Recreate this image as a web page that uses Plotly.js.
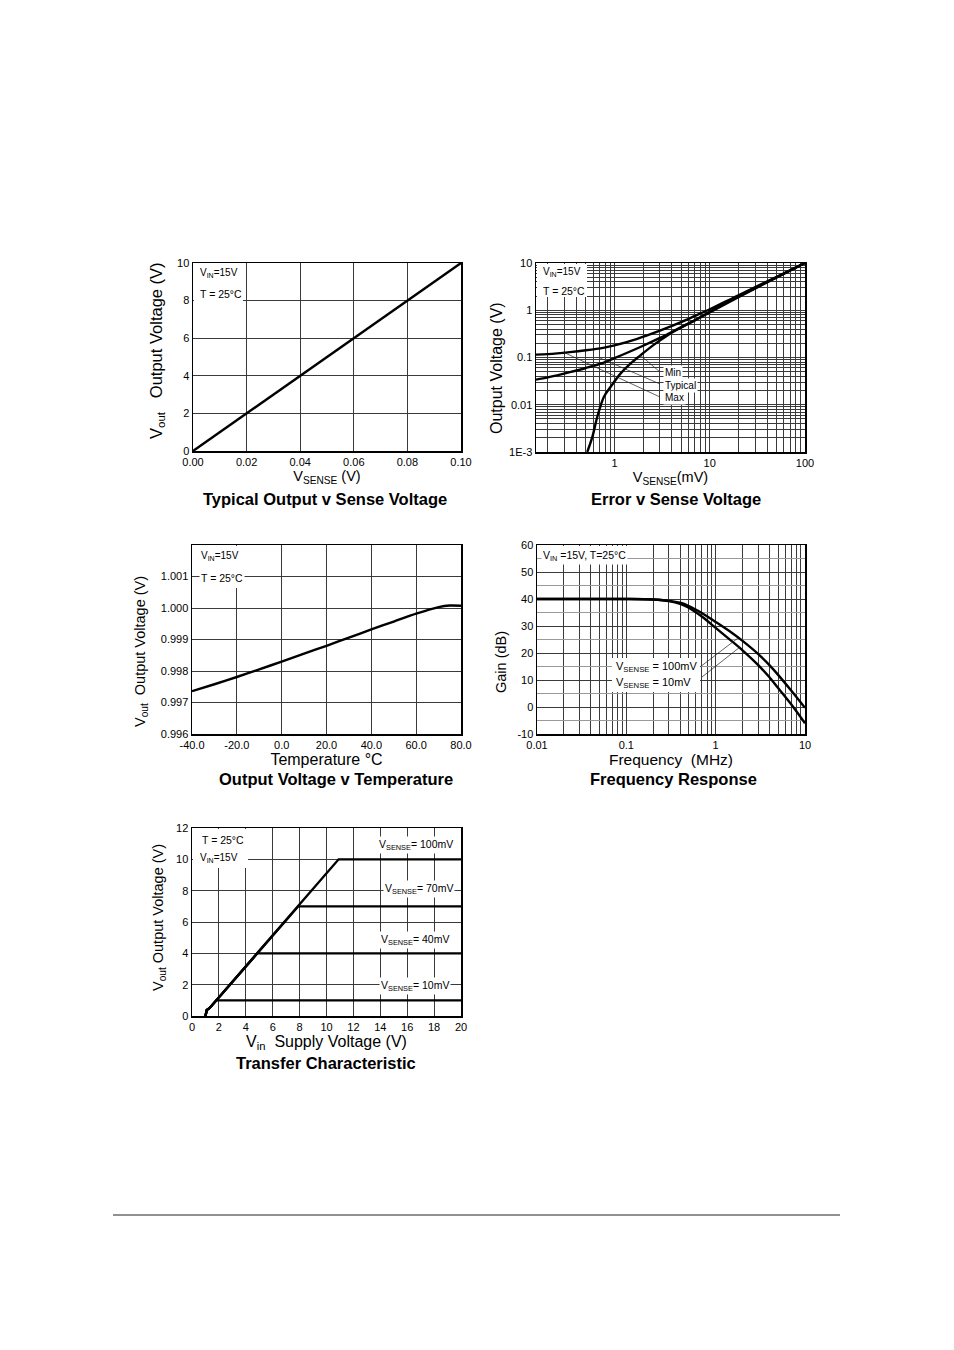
<!DOCTYPE html>
<html>
<head>
<meta charset="utf-8">
<script src="https://cdn.plot.ly/plotly-3.0.1.min.js"></script>
<style>html,body{margin:0;padding:0;background:#fff}#chart{width:954px;height:1350px}</style>
</head>
<body>
<div id="chart"></div>
<script>
// ---------- DATA ----------
// 1. Typical Output v Sense Voltage
var senseV = [0, 0.02, 0.04, 0.06, 0.08, 0.10];
var outV = [0, 2, 4, 6, 8, 10];
var senseXTicks = [0, 0.02, 0.04, 0.06, 0.08, 0.10];
var senseXLabels = ['0.00', '0.02', '0.04', '0.06', '0.08', '0.10'];

// 2. Error v Sense Voltage (mV, V)
var errMaxX = [0.15, 0.2, 0.34, 0.5, 0.76, 1, 1.7, 3, 5, 7, 10, 20, 50, 100];
var errMaxY = [0.115, 0.118, 0.13, 0.142, 0.16, 0.18, 0.245, 0.37, 0.56, 0.76, 1.05, 2.08, 5.05, 10];
var errTypX = [0.15, 0.2, 0.34, 0.5, 0.76, 1, 1.87, 3, 4.9, 7, 10, 20, 50, 100];
var errTypY = [0.034, 0.038, 0.049, 0.06, 0.077, 0.097, 0.167, 0.26, 0.43, 0.62, 0.93, 1.95, 4.95, 10];
var errMinX = [0.518, 0.59, 0.659, 0.773, 0.908, 1.155, 1.47, 1.87, 2.58, 3.56, 5, 7, 10, 20, 50, 100];
var errMinY = [0.001, 0.0022, 0.0055, 0.0146, 0.0237, 0.0456, 0.0743, 0.111, 0.185, 0.29, 0.43, 0.61, 0.9, 1.9, 4.9, 10];
var errXTicks = [1, 10, 100];
var errXLabels = ['1', '10', '100'];
var errXMinor = [0.2,0.3,0.4,0.5,0.6,0.7,0.8,0.9,2,3,4,5,6,7,8,9,20,30,40,50,60,70,80,90];
var errYTicks = [0.001, 0.01, 0.1, 1, 10];
var errYLabels = ['1E-3', '0.01', '0.1', '1', '10'];
var errYMinor = [0.002,0.003,0.004,0.005,0.006,0.007,0.008,0.009,0.02,0.03,0.04,0.05,0.06,0.07,0.08,0.09,0.2,0.3,0.4,0.5,0.6,0.7,0.8,0.9,2,3,4,5,6,7,8,9];

// 3. Output Voltage v Temperature
var tempC = [-40, -30, -20, -10, 0, 10, 20, 30, 40, 50, 60, 70, 75, 80];
var tempVout = [0.99736, 0.99758, 0.99781, 0.99805, 0.99830, 0.99855, 0.99880, 0.99906, 0.99932, 0.99957, 0.99982, 1.00003, 1.00008, 1.00007];
var tempXTicks = [-40, -20, 0, 20, 40, 60, 80];
var tempXLabels = ['-40.0', '-20.0', '0.0', '20.0', '40.0', '60.0', '80.0'];
var tempYTicks = [0.996, 0.997, 0.998, 0.999, 1.000, 1.001];
var tempYLabels = ['0.996', '0.997', '0.998', '0.999', '1.000', '1.001'];

// 4. Frequency Response
var freqMHz = [0.01, 0.02, 0.05, 0.1, 0.2, 0.3, 0.4, 0.5, 0.7, 1, 1.5, 2, 3, 4, 5, 7, 10];
var gain100 = [40, 40, 40, 40, 39.8, 39.3, 38.6, 37.4, 34.8, 31.5, 27.6, 24.5, 19.6, 15.5, 11.9, 6.1, -0.3];
var gain10 = [40, 40, 40, 40, 39.8, 39.2, 38.2, 36.8, 33.5, 29.3, 24.5, 21, 15.5, 11, 7, 1, -6];
var freqXTicks = [0.01, 0.1, 1, 10];
var freqXLabels = ['0.01', '0.1', '1', '10'];
var freqXMinor = [0.02,0.03,0.04,0.05,0.06,0.07,0.08,0.09,0.2,0.3,0.4,0.5,0.6,0.7,0.8,0.9,2,3,4,5,6,7,8,9];
var gainYTicks = [-10, 0, 10, 20, 30, 40, 50, 60];
var gainYLabels = ['-10', '0', '10', '20', '30', '40', '50', '60'];

// 5. Transfer Characteristic
var tc100X = [1.0, 1.03, 1.1, 1.3, 2, 4, 6, 8, 10.9, 20];
var tc100Y = [0, 0.25, 0.38, 0.5, 1.19, 3.17, 5.15, 7.1, 10, 10];
var tc70X = [1.0, 1.03, 1.1, 1.3, 2, 4, 6, 7.9, 20];
var tc70Y = [0, 0.25, 0.38, 0.5, 1.19, 3.17, 5.15, 7.0, 7.0];
var tc40X = [1.0, 1.03, 1.1, 1.3, 2, 4, 4.85, 20];
var tc40Y = [0, 0.25, 0.38, 0.5, 1.19, 3.17, 4.0, 4.0];
var tc10X = [1.0, 1.03, 1.1, 1.3, 1.8, 20];
var tc10Y = [0, 0.25, 0.38, 0.5, 1.0, 1.0];

// ---------- LAYOUT HELPERS ----------
var W = 954, H = 1350;
function px(x) { return x / W; }
function py(y) { return 1 - y / H; }
var FONT = 'Liberation Sans, Arial, Helvetica, sans-serif';
var GRID = '#3a3a3a';

function axis(dom, extra) {
  var a = {
    domain: dom, showline: true, mirror: true, linecolor: '#000', linewidth: 1.5,
    showgrid: true, gridcolor: GRID, gridwidth: 1, zeroline: false, ticks: '',
    tickfont: {family: FONT, size: 11, color: '#000'}, fixedrange: true
  };
  for (var k in extra) a[k] = extra[k];
  return a;
}
function minorGrid(vals, color) {
  return {tickmode: 'array', tickvals: vals, showgrid: true, gridcolor: color || GRID, gridwidth: 1, ticks: ''};
}
function ttl(text, size, standoff) {
  return {text: text, font: {family: FONT, size: size, color: '#000'}, standoff: standoff};
}
var LW = 2.4;
function line(x, y, xa, ya, shape) {
  return {x: x, y: y, xaxis: xa, yaxis: ya, mode: 'lines', type: 'scatter',
          line: {color: '#000', width: LW, shape: shape || 'linear', smoothing: 0.9},
          hoverinfo: 'skip', showlegend: false};
}

var traces = [
  line(senseV, outV, 'x', 'y'),
  line(errMaxX, errMaxY, 'x2', 'y2', 'spline'),
  line(errTypX, errTypY, 'x2', 'y2', 'spline'),
  line(errMinX, errMinY, 'x2', 'y2', 'spline'),
  line(tempC, tempVout, 'x3', 'y3', 'spline'),
  line(freqMHz, gain100, 'x4', 'y4', 'spline'),
  line(freqMHz, gain10, 'x4', 'y4', 'spline'),
  line(tc100X, tc100Y, 'x5', 'y5'),
  line(tc70X, tc70Y, 'x5', 'y5'),
  line(tc40X, tc40Y, 'x5', 'y5'),
  line(tc10X, tc10Y, 'x5', 'y5')
];

function txt(x, y, text, size, opts) {
  var a = {xref: 'paper', yref: 'paper', x: px(x), y: py(y), text: text, showarrow: false,
           xanchor: 'left', yanchor: 'middle', font: {family: FONT, size: size || 10, color: '#000'}};
  for (var k in opts) a[k] = opts[k];
  return a;
}
function ytitle(x, y, text, size) {
  return txt(x, y, text, size, {textangle: -90, xanchor: 'center', yanchor: 'middle'});
}
function rect(x0, y0, x1, y1) {
  return {type: 'rect', xref: 'paper', yref: 'paper', x0: px(x0), x1: px(x1), y0: py(y0), y1: py(y1),
          fillcolor: '#fff', line: {width: 0}, layer: 'above'};
}
function seg(x0, y0, x1, y1, w) {
  return {type: 'line', xref: 'paper', yref: 'paper', x0: px(x0), x1: px(x1), y0: py(y0), y1: py(y1),
          line: {color: '#222', width: w || 0.7}, layer: 'above'};
}
var WB = {bgcolor: '#fff', borderpad: 1};
var BOLD = {font: {family: FONT, size: 16.5, color: '#000', weight: 'bold'}, xanchor: 'center'};

var layout = {
  width: W, height: H, margin: {l: 0, r: 0, t: 0, b: 0},
  paper_bgcolor: '#fff', plot_bgcolor: '#fff', showlegend: false,
  font: {family: FONT, color: '#000'},
  xaxis: axis([px(193), px(461)], {anchor: 'y', range: [0, 0.1], tickvals: senseXTicks, ticktext: senseXLabels,
          title: ttl('V<sub>SENSE</sub> (V)', 14.5, 2)}),
  yaxis: axis([py(451), py(263)], {anchor: 'x', range: [0, 10], dtick: 2}),
  xaxis2: axis([px(536), px(805)], {anchor: 'y2', type: 'log', range: [Math.log10(0.15), 2],
          tickvals: errXTicks, ticktext: errXLabels, minor: minorGrid(errXMinor),
          title: ttl('V<sub>SENSE</sub>(mV)', 14.5, 2)}),
  yaxis2: axis([py(452), py(263)], {anchor: 'x2', type: 'log', range: [-3, 1],
          tickvals: errYTicks, ticktext: errYLabels, minor: minorGrid(errYMinor)}),
  xaxis3: axis([px(192), px(461)], {anchor: 'y3', range: [-40, 80], tickvals: tempXTicks, ticktext: tempXLabels,
          title: ttl('Temperature °C', 16, 1)}),
  yaxis3: axis([py(734), py(545)], {anchor: 'x3', range: [0.996, 1.002],
          tickvals: tempYTicks, ticktext: tempYLabels}),
  xaxis4: axis([px(537), px(805)], {anchor: 'y4', type: 'log', range: [-2, 1],
          tickvals: freqXTicks, ticktext: freqXLabels, minor: minorGrid(freqXMinor),
          title: ttl('Frequency  (MHz)', 15.5, 1)}),
  yaxis4: axis([py(734), py(545)], {anchor: 'x4', range: [-10, 60], tickvals: gainYTicks, ticktext: gainYLabels,
          minor: {dtick: 5, showgrid: true, gridcolor: '#999', gridwidth: 1, ticks: ''}}),
  xaxis5: axis([px(192), px(461)], {anchor: 'y5', range: [0, 20], dtick: 2,
          title: ttl('V<sub>in</sub>  Supply Voltage (V)', 16, 1)}),
  yaxis5: axis([py(1016), py(828)], {anchor: 'x5', range: [0, 12], dtick: 2}),
  shapes: [
    rect(194, 264, 243, 304),
    rect(537, 264, 587, 297),
    rect(193, 546, 241, 566), rect(234, 566, 241, 588),
    rect(538, 546, 632, 558),
    rect(612, 658, 700, 692),
    rect(193, 829, 248, 868),
    seg(563, 352, 660, 397), seg(600, 358, 660, 384), seg(640, 355, 660, 372),
    seg(700, 667, 738, 638), seg(702, 677, 740, 647),
    seg(113, 1215, 840, 1215, 1.2)
  ],
  annotations: [
    ytitle(157, 351, 'V<sub>out</sub>   Output Voltage (V)', 16.5),
    ytitle(496, 368, 'Output Voltage (V)', 16),
    ytitle(141, 652, 'V<sub>out</sub>  Output Voltage (V)', 14.5),
    ytitle(501, 662, 'Gain (dB)', 14.5),
    ytitle(159, 918, 'V<sub>out</sub> Output Voltage (V)', 14.5),
    txt(198, 273, 'V<sub>IN</sub>=15V', 10), txt(198, 294, 'T = 25°C', 10.5),
    txt(541, 272, 'V<sub>IN</sub>=15V', 10), txt(541, 291, 'T = 25°C', 10.5),
    txt(663, 373, 'Min', 10, WB), txt(663, 385, 'Typical', 10, WB), txt(663, 397, 'Max', 10, WB),
    txt(199, 556, 'V<sub>IN</sub>=15V', 10), txt(199, 578, 'T = 25°C', 10.5, WB),
    txt(541, 556, 'V<sub>IN</sub> =15V, T=25°C', 10.5, WB),
    txt(614, 667, 'V<sub>SENSE</sub> = 100mV', 11), txt(614, 683, 'V<sub>SENSE</sub> = 10mV', 11),
    txt(200, 840, 'T = 25°C', 10.5), txt(198, 858, 'V<sub>IN</sub>=15V', 10),
    txt(377, 845, 'V<sub>SENSE</sub>= 100mV', 10.5, WB),
    txt(383, 889, 'V<sub>SENSE</sub>= 70mV', 10.5, WB),
    txt(379, 940, 'V<sub>SENSE</sub>= 40mV', 10.5, WB),
    txt(379, 986, 'V<sub>SENSE</sub>= 10mV', 10.5, WB),
    txt(325, 499, 'Typical Output v Sense Voltage', 16.5, BOLD),
    txt(676, 499, 'Error v Sense Voltage', 16.5, BOLD),
    txt(336, 779, 'Output Voltage v Temperature', 16.5, BOLD),
    txt(673, 779, 'Frequency Response', 16.5, BOLD),
    txt(326, 1063, 'Transfer Characteristic', 16.5, BOLD)
  ]
};

Plotly.newPlot('chart', traces, layout, {staticPlot: true, displayModeBar: false});
</script>
</body>
</html>
